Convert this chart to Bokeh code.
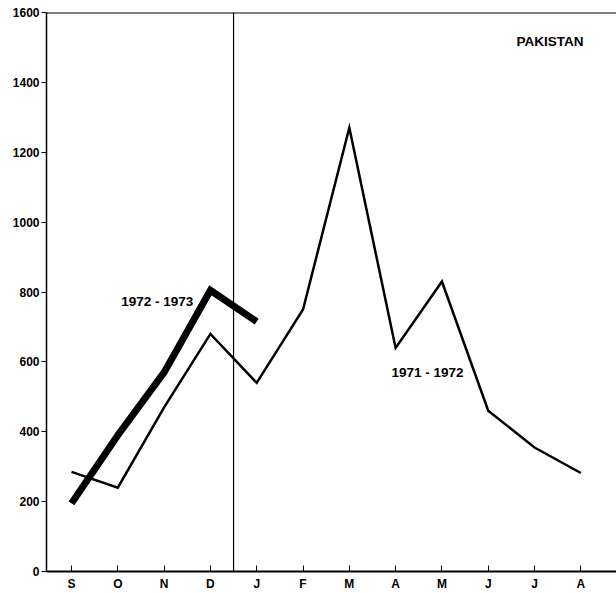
from bokeh.plotting import figure
from bokeh.models import FixedTicker, Span, Label
from bokeh.embed import file_html
from bokeh.resources import INLINE

months = ["S", "O", "N", "D", "J", "F", "M", "A", "M", "J", "J", "A"]
season_7172 = [285, 240, 470, 680, 540, 750, 1270, 640, 830, 460, 355, 282]
season_7273 = [195, 390, 570, 805, 715]
y_ticks = [0, 200, 400, 600, 800, 1000, 1200, 1400, 1600]

FONT = "Liberation Sans"

x_idx = list(range(len(months)))

p = figure(width=616, height=593, output_backend="svg", toolbar_location=None,
           x_range=(-0.54, 11.77), y_range=(0, 1600),
           min_border_left=46, min_border_right=0, min_border_top=12, min_border_bottom=18)
p.outline_line_color = None
p.grid.grid_line_color = None
p.background_fill_color = "white"
p.border_fill_color = "white"

p.xaxis.ticker = FixedTicker(ticks=x_idx)
p.xaxis.major_label_overrides = {i: m for i, m in enumerate(months)}
p.xaxis.major_tick_in = 6
p.xaxis.major_tick_out = 0
p.xaxis.minor_tick_line_color = None
p.xaxis.axis_line_width = 2
p.xaxis.major_label_standoff = 5

p.yaxis.ticker = FixedTicker(ticks=y_ticks)
p.yaxis.major_tick_in = 0
p.yaxis.major_tick_out = 5
p.yaxis.minor_tick_line_color = None
p.yaxis.axis_line_width = 1.5
p.yaxis.major_label_standoff = 2

for ax in (p.xaxis, p.yaxis):
    ax.major_label_text_font = FONT
    ax.major_label_text_font_style = "bold"
    ax.major_label_text_font_size = "12px"
    ax.major_label_text_color = "black"
    ax.axis_line_color = "black"
    ax.major_tick_line_color = "black"

p.add_layout(Span(location=1600, dimension="width", line_color="black", line_width=2))
p.add_layout(Span(location=3.5, dimension="height", line_color="black", line_width=1.2))

p.line(x_idx, season_7172, line_color="black", line_width=2.5, line_join="miter")
p.line(x_idx[:len(season_7273)], season_7273, line_color="black", line_width=7, line_join="miter")

for x, y, t, align in [(2.63, 773, "1972 - 1973", "right"),
                       (6.91, 570, "1971 - 1972", "left"),
                       (9.61, 1516, "PAKISTAN", "left")]:
    p.add_layout(Label(x=x, y=y, text=t, text_align=align, text_baseline="middle",
                       text_font=FONT, text_font_style="bold", text_font_size="13.5px",
                       text_color="black"))

open("out.html", "w").write(file_html(p, INLINE))
